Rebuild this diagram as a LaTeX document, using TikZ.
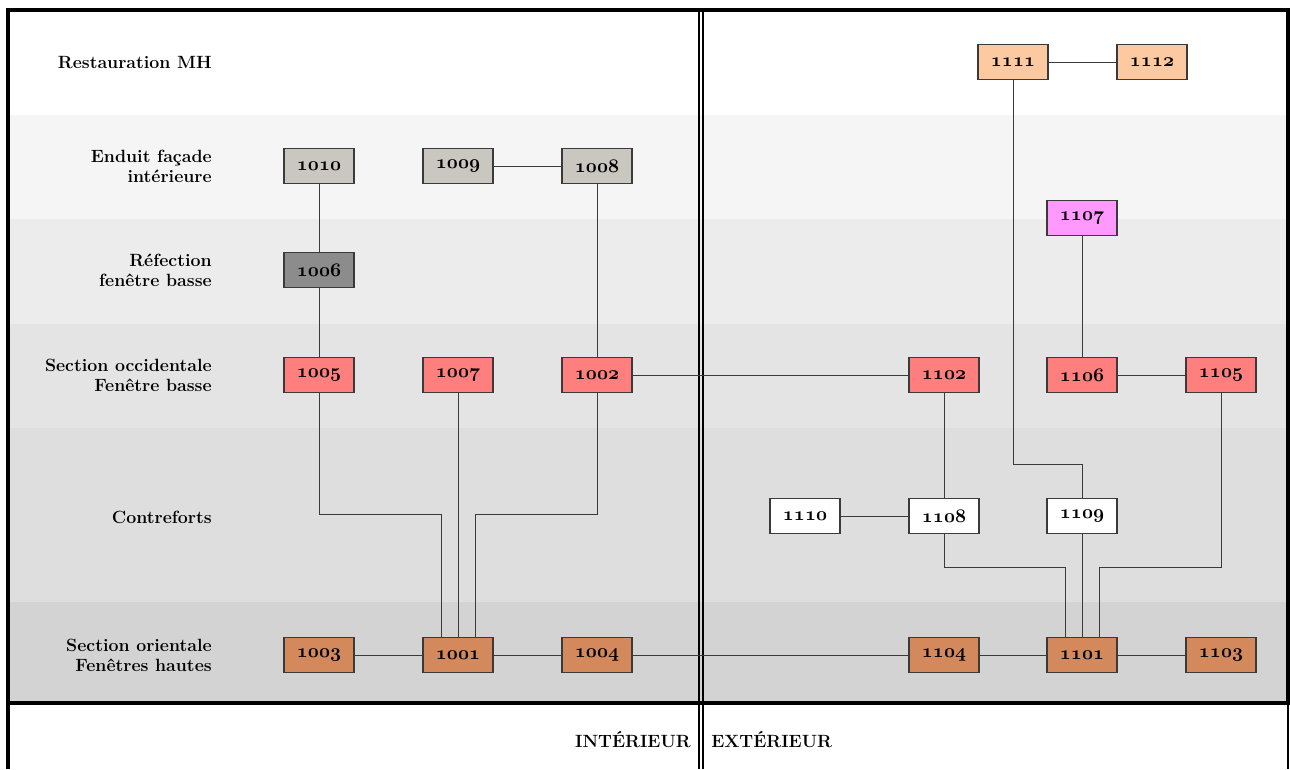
\documentclass[tikz,border=0pt]{standalone}
\usetikzlibrary{calc}
\definecolor{bandB}{HTML}{F5F5F5}
\definecolor{bandC}{HTML}{ECECEC}
\definecolor{bandD}{HTML}{E4E4E4}
\definecolor{bandE}{HTML}{DEDEDE}
\definecolor{bandF}{HTML}{D3D3D3}
\definecolor{cGrey}{HTML}{C9C7C0}
\definecolor{cDark}{HTML}{8C8C8C}
\definecolor{cRed}{HTML}{FF7F7F}
\definecolor{cBrown}{HTML}{D4895C}
\definecolor{cPeach}{HTML}{FCC9A0}
\definecolor{cPink}{HTML}{FF99FF}
\definecolor{cLine}{HTML}{3A3A3A}
\newcommand\osn[1]{{\boldmath$\mathnormal{#1}$}}
\begin{document}
\begin{tikzpicture}[x=0.75pt,y=-0.75pt,
  box/.style={draw=cLine, line width=0.9pt, minimum width=52.5pt, minimum height=26.25pt,
    inner sep=0pt, font=\fontsize{13.5}{15}\selectfont\bfseries},
  conn/.style={draw=cLine, line width=0.75pt},
  lab/.style={anchor=east, align=right, font=\fontsize{13.3}{15}\selectfont\bfseries, inner sep=0pt},
  frame/.style={draw=black, line width=3pt}]
\useasboundingbox (0,0) rectangle (1290,769);
% bands
\fill[white] (0,0) rectangle (1290,769);
\fill[bandB] (8,115) rectangle (1288,219);
\fill[bandC] (8,219) rectangle (1288,324);
\fill[bandD] (8,324) rectangle (1288,428);
\fill[bandE] (8,428) rectangle (1288,602);
\fill[bandF] (8,602) rectangle (1288,703);
% inside / outside divider
\draw[black, line width=0.8pt] (699,10) -- (699,769);
\draw[black, line width=0.8pt] (703,10) -- (703,769);
% row labels
\node[lab] (lMH) at (212,63) {Restauration MH};
\node[lab] (lEF) at (212,166) {Enduit façade\\intérieure};
\node[lab] (lRF) at (212,270) {Réfection\\fenêtre basse};
\node[lab] (lSO) at (212,375) {Section occidentale\\Fenêtre basse};
\node[lab] (lCF) at (212,517) {Contreforts};
\node[lab] (lOR) at (212,655) {Section orientale\\Fenêtres hautes};
\node[font=\fontsize{13.3}{15}\selectfont\bfseries, anchor=east, inner sep=0pt] (lIN) at (691,740) {INTÉRIEUR};
\node[font=\fontsize{13.3}{15}\selectfont\bfseries, anchor=west, inner sep=0pt] (lEX) at (711,740) {EXTÉRIEUR};
% boxes
\node[box, fill=cPeach] (n1111) at (1013,62) {\osn{1111}};
\node[box, fill=cPeach] (n1112) at (1152,62) {\osn{1112}};
\node[box, fill=cGrey] (n1010) at (319,166) {\osn{1010}};
\node[box, fill=cGrey] (n1009) at (458,166) {\osn{1009}};
\node[box, fill=cGrey] (n1008) at (597,166) {\osn{1008}};
\node[box, fill=cPink] (n1107) at (1082,218) {\osn{1107}};
\node[box, fill=cDark] (n1006) at (319,270) {\osn{1006}};
\node[box, fill=cRed] (n1005) at (319,375) {\osn{1005}};
\node[box, fill=cRed] (n1007) at (458,375) {\osn{1007}};
\node[box, fill=cRed] (n1002) at (597,375) {\osn{1002}};
\node[box, fill=cRed] (n1102) at (944,375) {\osn{1102}};
\node[box, fill=cRed] (n1106) at (1082,375) {\osn{1106}};
\node[box, fill=cRed] (n1105) at (1221,375) {\osn{1105}};
\node[box, fill=white] (n1110) at (805,516) {\osn{1110}};
\node[box, fill=white] (n1108) at (944,516) {\osn{1108}};
\node[box, fill=white] (n1109) at (1082,516) {\osn{1109}};
\node[box, fill=cBrown] (n1003) at (319,655) {\osn{1003}};
\node[box, fill=cBrown] (n1001) at (458,655) {\osn{1001}};
\node[box, fill=cBrown] (n1004) at (597,655) {\osn{1004}};
\node[box, fill=cBrown] (n1104) at (944,655) {\osn{1104}};
\node[box, fill=cBrown] (n1101) at (1082,655) {\osn{1101}};
\node[box, fill=cBrown] (n1103) at (1221,655) {\osn{1103}};
% bend points
\coordinate (c1) at (441,514);
\coordinate (c2) at (475,514);
\coordinate (c3) at (1065,567);
\coordinate (c4) at (1099,567);
\coordinate (c5) at (1082,464);
% connectors
\draw[conn] (n1111) -- (n1112);
\draw[conn] (n1010) -- (n1006);
\draw[conn] (n1006) -- (n1005);
\draw[conn] (n1009) -- (n1008);
\draw[conn] (n1008) -- (n1002);
\draw[conn] (n1107) -- (n1106);
\draw[conn] (n1106) -- (n1105);
\draw[conn] (n1002) -- (n1102);
\draw[conn] (n1102) -- (n1108);
\draw[conn] (n1110) -- (n1108);
\draw[conn] (n1007) -- (n1001);
\draw[conn] (n1005.south) |- (c1) -- (c1 |- n1001.north);
\draw[conn] (n1002.south) |- (c2) -- (c2 |- n1001.north);
\draw[conn] (n1108.south) |- (c3) -- (c3 |- n1101.north);
\draw[conn] (n1105.south) |- (c4) -- (c4 |- n1101.north);
\draw[conn] (n1111.south) |- (c5) -- (n1109.north);
\draw[conn] (n1109) -- (n1101);
\draw[conn] (n1003) -- (n1001);
\draw[conn] (n1001) -- (n1004);
\draw[conn] (n1004) -- (n1104);
\draw[conn] (n1104) -- (n1101);
\draw[conn] (n1101) -- (n1103);
% frame
\draw[frame] (8,10) rectangle (1288,703);
\draw[frame] (8,703) -- (8,769);
\draw[black, line width=0.8pt] (1288,703) -- (1288,769);
\end{tikzpicture}
\end{document}
